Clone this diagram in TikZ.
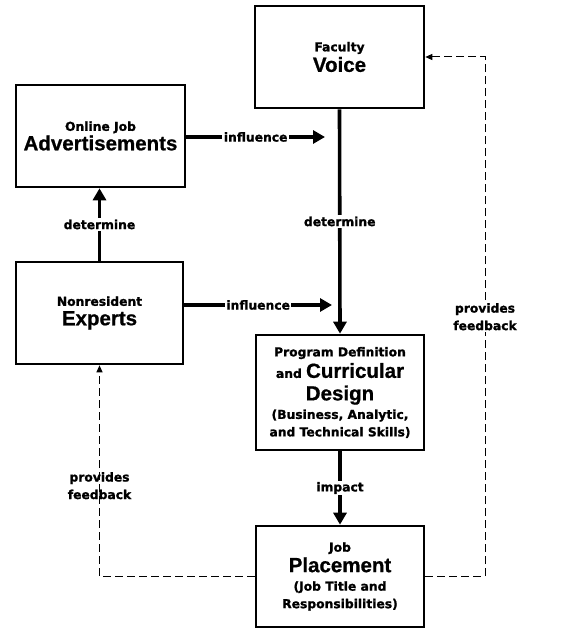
\documentclass[tikz,border=0pt]{standalone}
\usepackage{fontspec}
\usetikzlibrary{arrows.meta}
\newfontfamily\lblfam{DejaVu Sans}[BoldFeatures={FakeBold=1.3}]
\newfontfamily\bigfam{Liberation Sans}[BoldFeatures={FakeBold=0.8}]
\newcommand\smtxt{\lblfam\bfseries\fontsize{12.3}{17.5}\selectfont}
\newcommand\bgtxt{\bigfam\bfseries\fontsize{20.5}{22}\selectfont}
\begin{document}
\begin{tikzpicture}[x=1pt,y=-1pt,
 box/.style={draw=black, line width=2.6pt, rectangle, align=center, font=\smtxt, inner sep=0pt},
 flow/.style={line width=3.6pt, -{Triangle[length=12pt,width=13pt]}},
 fb/.style={line width=1pt, dash pattern=on 8pt off 4pt, -{Triangle[length=7pt,width=6pt]}},
 lbl/.style={font=\smtxt, fill=white, inner sep=1.5pt, align=center},
 lblnf/.style={font=\smtxt, inner sep=1.5pt, align=center},
]
\useasboundingbox (0,0) rectangle (578,628);
\node[box, minimum width=169pt, minimum height=102pt] (fac) at (339.5,57) {Faculty\\[2pt]{\bgtxt Voice}};
\node[box, minimum width=169pt, minimum height=102pt] (ads) at (100.5,136) {Online Job\\[2pt]{\bgtxt Advertisements}};
\node[box, minimum width=167pt, minimum height=102pt] (exp) at (99.5,313) {Nonresident\\[2pt]{\bgtxt Experts}};
\node[box, minimum width=168pt, minimum height=115pt] (prog) at (340,392.5) {Program Definition\\[3pt]and {\bgtxt Curricular}\\[5pt]{\bgtxt Design}\\[1pt](Business, Analytic,\\and Technical Skills)};
\node[box, minimum width=168pt, minimum height=101pt] (job) at (340,576.5) {Job\\[3pt]{\bgtxt Placement}\\[1pt](Job Title and\\Responsibilities)};
\coordinate (i1) at (325,137);
\coordinate (i2) at (332,305);
\coordinate (rb) at (485,576.5);
\coordinate (rt) at (485,57);
\draw[flow] (ads.east |- i1) -- node[lbl]{influence} (i1);
\draw[flow] (exp.east |- i2) -- node[lbl]{influence} (i2);
\draw[flow] (fac.south) -- node[lbl]{determine} (prog.north);
\draw[flow] (exp.north) -- node[lbl]{determine} (exp.north |- ads.south);
\draw[flow] (prog.south) -- node[lbl]{impact} (job.north);
\draw[fb] (job.west) -| node[lblnf, pos=0.715]{provides\\feedback} (exp.south);
\draw[fb] (job.east) -- (rb) -- node[lbl]{provides\\feedback} (rt) -- (fac.east);
\end{tikzpicture}
\end{document}
